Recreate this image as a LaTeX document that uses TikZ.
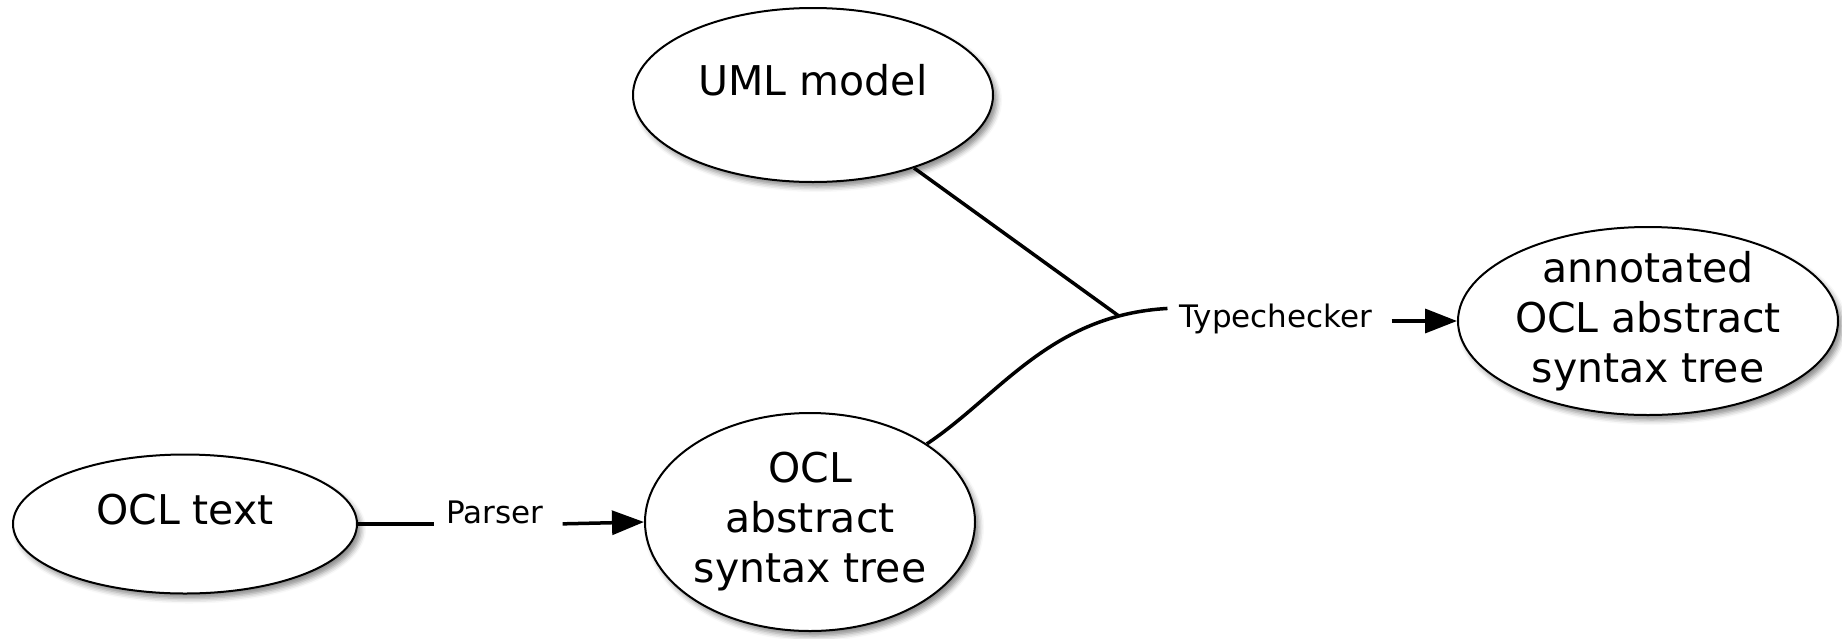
\documentclass[tikz,border=0pt]{standalone}
\usepackage{fontspec}
\setmainfont{DejaVu Sans}
\usetikzlibrary{arrows.meta,shapes.geometric,shadows.blur}

\begin{document}
\begin{tikzpicture}[x=1pt,y=-1pt,
  stage/.style={ellipse, draw=black, line width=2pt, fill=white, inner sep=0pt,
    align=center, font=\fontsize{41}{50}\selectfont,
    blur shadow={shadow xshift=4pt, shadow yshift=-5pt,
      shadow blur radius=5pt, shadow opacity=45}},
  oneline/.style={text height=31pt, text depth=31pt},
  tool/.style={font=\fontsize{31}{37}\selectfont, inner xsep=12pt,
    inner ysep=2pt, anchor=base},
  conn/.style={line width=3.5pt},
  flow/.style={conn, -{Triangle[length=32pt,width=24pt]}, shorten <=7pt}]
\useasboundingbox (0,0) rectangle (1842,638);

% artefacts
\node[stage, oneline, minimum width=360pt, minimum height=174pt] (uml) at (813,95) {UML model};
\node[stage, oneline, minimum width=344pt, minimum height=139pt] (otext) at (185,524) {OCL text};
\node[stage, minimum width=330pt, minimum height=218pt] (oast) at (810,522)
  {OCL\\abstract\\syntax tree};
\node[stage, inner ysep=-10pt, minimum width=380pt, minimum height=188pt] (ann) at (1648,321)
  {annotated\\OCL abstract\\syntax tree};

% tools
\node[tool] (parser) at (495,523) {Parser};
\node[tool] (tc) at (1276,327) {Typechecker};

% parsing step
\draw[conn] (otext.east) -- (otext.east -| parser.west);
\draw[flow] (parser.east |- otext.east) -- (oast.west);

% type checking step
\draw[conn] (oast) .. controls (1000,395) and (1050,315) .. ([yshift=10pt]tc.west)
  coordinate[pos=0.85] (jn);
\draw[conn] (uml) -- (jn);
\draw[flow] (tc.east |- ann.west) -- (ann.west);
\end{tikzpicture}
\end{document}
